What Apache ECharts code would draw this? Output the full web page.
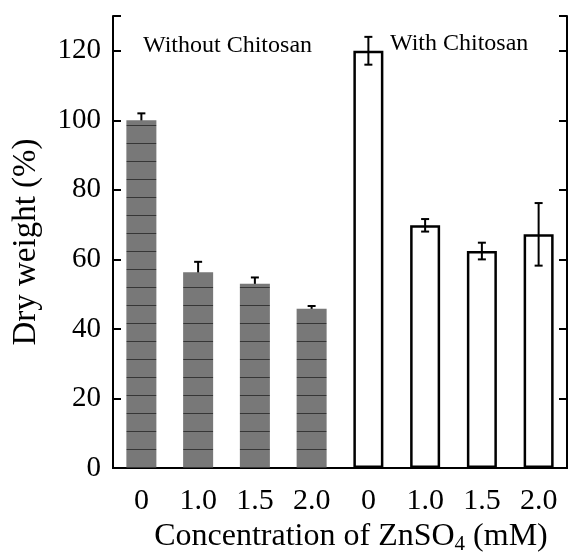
<!DOCTYPE html>
<html>
<head>
<meta charset="utf-8">
<script src="https://cdn.jsdelivr.net/npm/echarts@6/dist/echarts.min.js"></script>
<style>
  html, body { margin: 0; padding: 0; background: #fff; }
  #main { width: 570px; height: 555px; }
</style>
</head>
<body>
<div id="main"></div>
<script>
// ZnSO4 concentration (mM), first four without chitosan, last four with
const categories = ['0', '1.0', '1.5', '2.0', '0', '1.0', '1.5', '2.0'];
const withoutChitosan = [100, 56.3, 53, 45.8, '-', '-', '-', '-'];
const withChitosan = ['-', '-', '-', '-', 120, 69.8, 62.4, 67.2];
const errors = [2, 3, 1.8, 0.8, 4, 1.8, 2.4, 9];
const yTicks = [0, 20, 40, 60, 80, 100, 120];

const serif = 'Liberation Serif';

// grey fill with the faint horizontal lines of the scanned bars
function greyPattern () {
  const c = document.createElement('canvas');
  c.width = 8;
  c.height = 18;
  const ctx = c.getContext('2d');
  ctx.fillStyle = '#787878';
  ctx.fillRect(0, 0, 8, 18);
  ctx.fillStyle = '#363636';
  ctx.fillRect(0, 17, 8, 1);
  return c;
}

const errData = categories.map((c, i) => {
  const v = withoutChitosan[i] !== '-' ? withoutChitosan[i] : withChitosan[i];
  return [i, v, errors[i]];
});

function renderError (params, api) {
  const i = api.value(0);
  const v = api.value(1);
  const e = api.value(2);
  const hi = api.coord([i, v + e]);
  const lo = api.coord([i, v - e]);
  const half = 4;
  const st = { stroke: '#000', lineWidth: 2 };
  return {
    type: 'group',
    children: [
      { type: 'line', shape: { x1: hi[0], y1: hi[1], x2: lo[0], y2: lo[1] }, style: st },
      { type: 'line', shape: { x1: hi[0] - half, y1: hi[1], x2: hi[0] + half, y2: hi[1] }, style: st },
      { type: 'line', shape: { x1: lo[0] - half, y1: lo[1], x2: lo[0] + half, y2: lo[1] }, style: st }
    ]
  };
}

const chart = echarts.init(document.getElementById('main'));

const option = {
  backgroundColor: '#fff',
  animation: false,
  grid: {
    left: 113,
    right: 3,
    top: 16,
    bottom: 87,
    outerBoundsMode: 'none'
  },
  xAxis: [{
    type: 'category',
    data: categories,
    position: 'bottom',
    axisLine: { lineStyle: { color: '#000', width: 2 } },
    axisTick: { inside: true, length: 8, lineStyle: { color: '#000', width: 2 } },
    axisLabel: {
      color: '#000',
      fontFamily: serif,
      fontSize: 30,
      margin: 18
    },
    name: 'Concentration of ZnSO{sub|4} (mM)',
    nameLocation: 'middle',
    nameGap: 50,
    nameTextStyle: {
      color: '#000',
      fontFamily: serif,
      fontSize: 32,
      padding: [0, 0, 0, 22],
      rich: {
        sub: { fontFamily: serif, fontSize: 21, color: '#000', padding: [16, 0, 0, 0] }
      }
    }
  }, {
    type: 'category',
    data: categories,
    position: 'top',
    axisLine: { lineStyle: { color: '#000', width: 2 } },
    axisTick: { inside: true, length: 8, lineStyle: { color: '#000', width: 2 } },
    axisLabel: { show: false }
  }],
  yAxis: [{
    type: 'value',
    min: 0,
    max: 130,
    interval: 20,
    position: 'left',
    splitLine: { show: false },
    axisLine: { show: true, lineStyle: { color: '#000', width: 2 } },
    axisTick: { show: true, inside: true, length: 8, lineStyle: { color: '#000', width: 2 } },
    axisLabel: {
      color: '#000',
      fontFamily: serif,
      fontSize: 29,
      margin: 12,
      formatter: v => yTicks.indexOf(v) >= 0 ? String(v) : ''
    },
    name: 'Dry weight (%)',
    nameLocation: 'middle',
    nameGap: 70,
    nameTextStyle: { color: '#000', fontFamily: serif, fontSize: 33 }
  }, {
    type: 'value',
    min: 0,
    max: 130,
    interval: 20,
    position: 'right',
    splitLine: { show: false },
    axisLine: { show: true, lineStyle: { color: '#000', width: 2 } },
    axisTick: { show: true, inside: true, length: 8, lineStyle: { color: '#000', width: 2 } },
    axisLabel: { show: false }
  }],
  graphic: [{
    type: 'text',
    left: 143,
    top: 34,
    style: { text: 'Without Chitosan', font: '24px "Liberation Serif"', fill: '#000' }
  }, {
    type: 'text',
    left: 390,
    top: 32,
    style: { text: 'With Chitosan', font: '24px "Liberation Serif"', fill: '#000' }
  }],
  series: [{
    name: 'Without Chitosan',
    type: 'bar',
    data: withoutChitosan,
    barWidth: 30,
    barGap: '-100%',
    z: 3,
    itemStyle: { color: { image: greyPattern(), repeat: 'repeat' } }
  }, {
    name: 'With Chitosan',
    type: 'bar',
    data: withChitosan,
    barWidth: 30,
    barGap: '-100%',
    z: 3,
    itemStyle: { color: 'rgba(255,255,255,0)', borderColor: '#000', borderWidth: 2.5 }
  }, {
    name: 'SE',
    type: 'custom',
    renderItem: renderError,
    data: errData,
    encode: { x: 0, y: 1 },
    z: 2
  }]
};

chart.setOption(option);
</script>
</body>
</html>
